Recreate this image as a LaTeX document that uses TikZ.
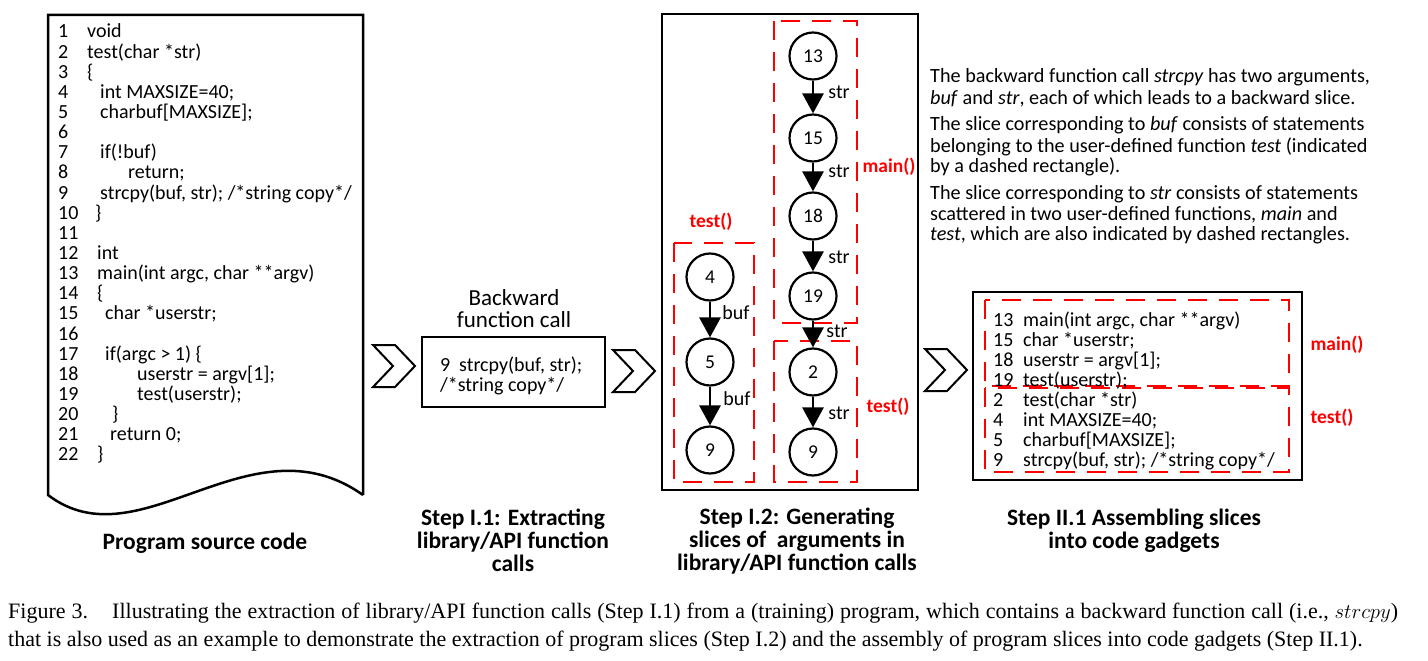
\documentclass[tikz,border=0pt]{standalone}
\usepackage{fontspec}
\setmainfont{Carlito}
\newfontfamily\capfont{Liberation Serif}
\usetikzlibrary{arrows.meta}
\begin{document}
\begin{tikzpicture}[x=1pt,y=-1pt,
  code/.style={anchor=base west, inner sep=0pt, font=\fontsize{20}{20}\selectfont},
  lbl/.style={align=center, inner sep=0pt, font=\fontsize{23.5}{23}\selectfont\bfseries},
  circ/.style={circle, draw, line width=2.2pt, minimum size=47pt, inner sep=0pt, font=\fontsize{19.5}{20}\selectfont},
  arr/.style={line width=2.8pt, -{Triangle[width=21pt,length=20pt]}},
  elab/.style={anchor=west, inner sep=0pt, xshift=14pt, font=\fontsize{20}{20}\selectfont},
  dbox/.style={draw=red, line width=2.8pt, dash pattern=on 19pt off 12pt},
  rlab/.style={text=red, inner sep=0pt, font=\fontsize{19.5}{20}\selectfont\bfseries},
  frame/.style={draw, line width=2.5pt},
  chev/.style={draw, line width=2pt, line join=miter},
  txt/.style={anchor=base west, inner sep=0pt, font=\fontsize{20.2}{20}\selectfont},
  captext/.style={anchor=base west, inner sep=0pt, font=\capfont\fontsize{22}{28}\selectfont}
]
\useasboundingbox (0,0) rectangle (1428,661);
\fill[white] (0,0) rectangle (1428,661);

% ---------- program source code document ----------
\draw[frame] (363,495) -- (363,15) -- (48,15) -- (48,495)
  .. controls (140,565) and (250,415) .. (363,495);
\foreach \n in {1,...,22}{
  \pgfmathsetmacro\yy{38+(\n-1)*20.14}
  \node[code] (num\n) at (58,\yy) {\n};
}
\foreach \n/\xx/\txt in {
 1/87/void,
 2/87/{test(char *str)},
 3/87/{\{},
 4/100/{int MAXSIZE=40;},
 5/100/{charbuf[MAXSIZE];},
 7/100/{if(!buf)},
 8/128/{return;},
 9/100/{strcpy(buf, str); /*string copy*/},
 10/95/{\}},
 12/97/int,
 13/97/{main(int argc, char **argv)},
 14/97/{\{},
 15/105/{char *userstr;},
 17/105/{if(argc > 1) \{},
 18/137/{userstr = argv[1];},
 19/137/{test(userstr);},
 20/112/{\}},
 21/110/{return 0;},
 22/97/{\}}}{
  \pgfmathsetmacro\yy{38+(\n-1)*20.14}
  \node[code] (src\n) at (\xx,\yy) {\txt};
}
\node[lbl] (lsrc) at (205,543) {Program source code};

% ---------- chevrons ----------
\draw[chev] (373,345) -- (395,345) -- (415,366) -- (395,387) -- (373,387) -- (393,366) -- cycle;
\draw[chev] (613,350) -- (635,350) -- (655,371) -- (635,392) -- (613,392) -- (633,371) -- cycle;
\draw[chev] (925,349) -- (947,349) -- (967,370) -- (947,391) -- (925,391) -- (945,370) -- cycle;

% ---------- step I.1 ----------
\node[align=center, inner sep=0pt, font=\fontsize{23}{21.5}\selectfont] (bwt) at (514,308.5) {Backward\\function call};
\draw[frame] (422,337) rectangle (605,407);
\node[code] (bw9) at (440,371) {9};
\node[code] (bw1) at (459,371) {strcpy(buf, str);};
\node[code] (bw2) at (440,391) {/*string copy*/};
\node[lbl] (ls1) at (513,540) {Step I.1: Extracting\\library/API function\\calls};

% ---------- step I.2 ----------
\draw[frame] (662,14) rectangle (918,490);
\draw[dbox] (774,21) rectangle (857,323);
\draw[dbox] (774,341) rectangle (857,482);
\draw[dbox] (674,243) rectangle (754,482);
\node[rlab] (rmain) at (889,167) {main()};
\node[rlab] (rtestl) at (711,222) {test()};
\node[rlab] (rtestr) at (888,407) {test()};

\node[circ] (n13) at (813,56) {13};
\node[circ] (n15) at (813,138) {15};
\node[circ] (n18) at (813,216) {18};
\node[circ] (n19) at (813,296) {19};
\node[circ] (n2) at (813,372) {2};
\node[circ] (n9r) at (813,452) {9};
\node[circ] (n4) at (710,277) {4};
\node[circ] (n5) at (710,362) {5};
\node[circ] (n9l) at (710,450) {9};

\draw[arr] (n13) -- node[elab, pos=0.36] {str} (n15);
\draw[arr] (n15) -- node[elab, pos=0.31] {str} (n18);
\draw[arr] (n18) -- node[elab, pos=0.53] {str} (n19);
\draw[arr] (n19) -- node[elab, pos=0.4, xshift=-2pt] {str} (n2);
\draw[arr] (n2) -- node[elab, pos=0.53] {str} (n9r);
\draw[arr] (n4) -- node[elab, pos=0.3, xshift=-3pt] {buf} (n5);
\draw[arr] (n5) -- node[elab, pos=0.3, xshift=-2pt] {buf} (n9l);

\node[lbl] (ls2) at (797,541.5) {Step I.2: Generating\\slices of \ arguments in\\library/API function calls};

% ---------- explanation text ----------
\node[txt] (t1) at (930,82) {The backward function call \textit{strcpy} has two arguments,};
\node[txt] (t2) at (930,104) {\textit{buf} and \textit{str}, each of which leads to a backward slice.};
\node[txt] (t3) at (930,131) {The slice corresponding to \textit{buf} consists of statements};
\node[txt] (t4) at (930,152) {belonging to the user-defined function \textit{test} (indicated};
\node[txt] (t5) at (930,172) {by a dashed rectangle).};
\node[txt] (t6) at (930,199) {The slice corresponding to \textit{str} consists of statements};
\node[txt] (t7) at (930,220) {scattered in two user-defined functions, \textit{main} and};
\node[txt] (t8) at (930,240) {\textit{test}, which are also indicated by dashed rectangles.};

% ---------- step II.1 ----------
\draw[frame] (973,292) rectangle (1302,480);
\draw[dbox] (985,300) rectangle (1289,386);
\draw[dbox] (985,388) rectangle (1289,472);
\foreach \i/\nn/\txt in {
 1/13/{main(int argc, char **argv)},
 2/15/{char *userstr;},
 3/18/{userstr = argv[1];},
 4/19/{test(userstr);},
 5/2/{test(char *str)},
 6/4/{int MAXSIZE=40;},
 7/5/{charbuf[MAXSIZE];},
 8/9/{strcpy(buf, str); /*string copy*/}}{
  \pgfmathsetmacro\yy{326+(\i-1)*20}
  \node[code] (gn\i) at (993,\yy) {\nn};
  \node[code] (gc\i) at (1023,\yy) {\txt};
}
\node[rlab] (gmain) at (1337,345) {main()};
\node[rlab] (gtest) at (1332,418) {test()};
\node[lbl] (ls3) at (1134,531) {Step II.1 Assembling slices\\into code gadgets};

% ---------- caption ----------
\node[captext] (cap1) at (8,618) {\makebox[1390pt][s]{Figure 3.\hspace{1.1em}Illustrating the extraction of library/API function calls (Step I.1) from a (training) program, which contains a backward function call (i.e., $strcpy$)}};
\node[captext] (cap2) at (8,646) {that is also used as an example to demonstrate the extraction of program slices (Step I.2) and the assembly of program slices into code gadgets (Step II.1).};
\end{tikzpicture}
\end{document}
